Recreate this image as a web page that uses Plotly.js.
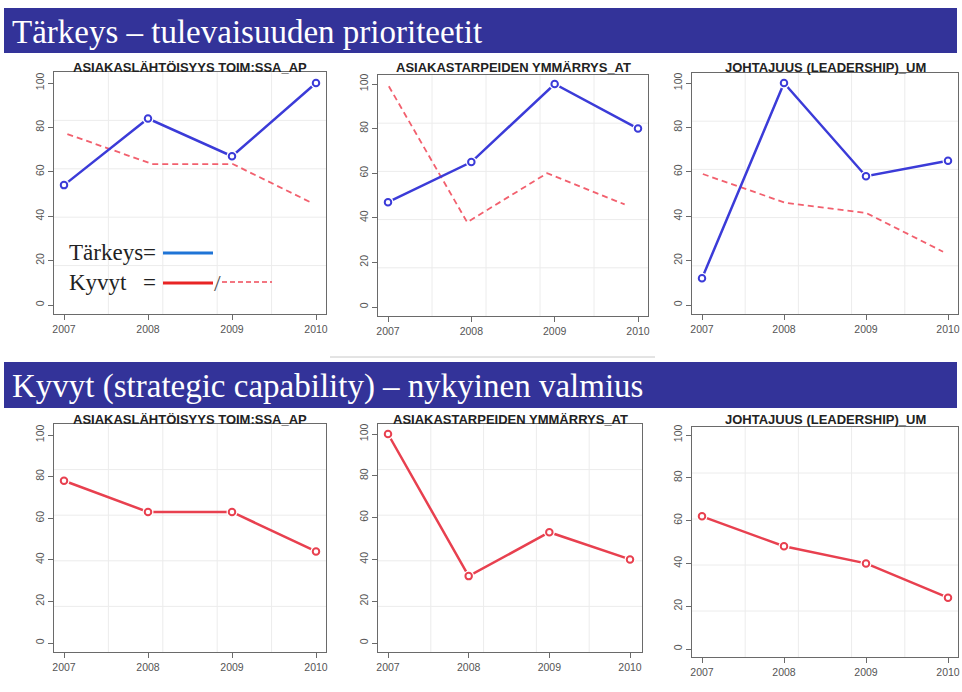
<!DOCTYPE html>
<html><head><meta charset="utf-8">
<script src="https://cdn.plot.ly/plotly-3.0.1.min.js"></script>
<style>html,body{margin:0;padding:0;background:#fff}#chart{width:962px;height:692px}</style>
</head><body><div id="chart"></div>
<script>
// ---------------- data ----------------
const years = [2007, 2008, 2009, 2010];
const yTicks = [0, 20, 40, 60, 80, 100];
const panelTitles = ["ASIAKASLÄHTÖISYYS TOIM:SSA_AP", "ASIAKASTARPEIDEN YMMÄRRYS_AT", "JOHTAJUUS (LEADERSHIP)_UM"];
const bannerTitles = ["Tärkeys – tulevaisuuden prioriteetit", "Kyvyt (strategic capability) – nykyinen valmius"];

// Tärkeys (importance) – top row, blue
const tarkeysAP = [54, 84, 67, 100];
const tarkeysAT = [47, 65, 100, 80];
const tarkeysUM = [12, 100, 58, 65];

// Kyvyt overlay (dashed red, pasted on top row)
const overlayXAP = [2007.04, 2008.05, 2009.01, 2009.95];
const overlayAP = [77, 63.5, 63.5, 46];
const overlayXAT = [2007.01, 2007.95, 2008.91, 2009.84];
const overlayAT = [99, 38, 60, 46];
const overlayXUM = [2007.01, 2008.02, 2009.0, 2009.94];
const overlayUM = [59, 46, 41.5, 24];

// Kyvyt (capability) – bottom row, red
const kyvytAP = [78, 63, 63, 44];
const kyvytAT = [100, 32, 53, 40];
const kyvytUM = [62, 48, 40, 24];

const legendLabels = ["Tärkeys=", "Kyvyt", "=", "/"];

// ---------------- geometry (pixels) ----------------
const W = 962, H = 692;
const fx = p => p / W;
const fy = p => 1 - p / H;
// box: [left, right, top, bottom]; xt: pixel of 2007 & 2010; yt: pixel of 0 & 100
const geom = [
  {box: [54, 326, 72, 314], xt: [64, 316], yt: [305, 83], ty: 67},
  {box: [378, 648, 75, 316], xt: [388, 638], yt: [307, 84], ty: 67},
  {box: [692, 958, 73, 314], xt: [702, 948], yt: [305, 83], ty: 67},
  {box: [54, 326, 424, 652], xt: [64, 316], yt: [643, 435], ty: 419},
  {box: [378, 642, 424, 652], xt: [388, 630], yt: [643, 434], ty: 419},
  {box: [692, 958, 427, 657], xt: [702, 948], yt: [649, 435], ty: 419}
];

const BLUE = '#3b3bd8', RED_DASH = '#f2606e', RED = '#e8404f';

const traces = [];
const layout = {
  width: W, height: H, margin: {l: 0, r: 0, t: 0, b: 0},
  paper_bgcolor: '#ffffff', plot_bgcolor: 'rgba(0,0,0,0)',
  showlegend: false, shapes: [], annotations: [],
  font: {family: 'Arial, Liberation Sans, sans-serif'}
};

function addPanel(i, lines) {
  const g = geom[i];
  const n = i + 1;
  const xa = n === 1 ? 'x' : 'x' + n, ya = n === 1 ? 'y' : 'y' + n;
  const [L, R, T, B] = g.box;
  const ppx = (g.xt[1] - g.xt[0]) / (years[3] - years[0]);
  const xr = [years[0] - (g.xt[0] - L) / ppx, years[3] + (R - g.xt[1]) / ppx];
  const ppy = (g.yt[0] - g.yt[1]) / 100;
  const yr = [0 - (B - g.yt[0]) / ppy, 100 + (g.yt[1] - T) / ppy];
  const axCommon = {
    showline: true, mirror: true, linecolor: '#6a6a6a', linewidth: 1,
    ticks: 'outside', ticklen: 5, tickcolor: '#6a6a6a', tickwidth: 1,
    showgrid: false, zeroline: false, fixedrange: true, ticklabeloverflow: 'allow',
    tickfont: {size: 10.5, color: '#555', family: 'Arial, Liberation Sans, sans-serif'}
  };
  layout['xaxis' + (n === 1 ? '' : n)] = Object.assign({}, axCommon, {
    domain: [fx(L), fx(R)], range: xr, anchor: ya,
    tickmode: 'array', tickvals: years, ticktext: years.map(String)
  });
  layout['yaxis' + (n === 1 ? '' : n)] = Object.assign({}, axCommon, {
    domain: [fy(B), fy(T)], range: yr, anchor: xa,
    tickmode: 'array', tickvals: yTicks, ticktext: yTicks.map(String), tickangle: -90
  });
  // grid: 5 equal divisions of the box
  [0.2, 0.4, 0.6, 0.8].forEach(f => {
    layout.shapes.push({type: 'line', layer: 'below', xref: xa + ' domain', yref: ya + ' domain',
      x0: f, x1: f, y0: 0, y1: 1, line: {color: '#ececec', width: 1}});
    layout.shapes.push({type: 'line', layer: 'below', xref: xa + ' domain', yref: ya + ' domain',
      x0: 0, x1: 1, y0: f, y1: f, line: {color: '#ececec', width: 1}});
  });
  // title
  layout.annotations.push({xref: 'paper', yref: 'paper', x: fx((L + R) / 2), y: fy(g.ty),
    text: '<b>' + panelTitles[i % 3] + '</b>', showarrow: false, xanchor: 'center', yanchor: 'middle',
    font: {size: 13, color: '#222', family: 'Arial, Liberation Sans, sans-serif'}});
  lines.forEach(s => {
    const base = {x: s.x, y: s.y, xaxis: xa, yaxis: ya, hoverinfo: 'skip'};
    traces.push(Object.assign({}, base, {mode: 'lines', line: {color: s.color, width: s.width, dash: s.dash || 'solid'}}));
    if (s.markers) {
      traces.push(Object.assign({}, base, {mode: 'markers', marker: {symbol: 'circle', size: 11, color: '#ffffff', line: {width: 0}}}));
      traces.push(Object.assign({}, base, {mode: 'markers', marker: {symbol: 'circle-open', size: 6.5, color: s.color, line: {width: 2, color: s.color}}}));
    }
  });
}

addPanel(0, [
  {x: overlayXAP, y: overlayAP, color: RED_DASH, width: 1.8, dash: '6px,4px'},
  {x: years, y: tarkeysAP, color: BLUE, width: 2.5, markers: true}
]);
addPanel(1, [
  {x: overlayXAT, y: overlayAT, color: RED_DASH, width: 1.8, dash: '6px,4px'},
  {x: years, y: tarkeysAT, color: BLUE, width: 2.5, markers: true}
]);
addPanel(2, [
  {x: overlayXUM, y: overlayUM, color: RED_DASH, width: 1.8, dash: '6px,4px'},
  {x: years, y: tarkeysUM, color: BLUE, width: 2.5, markers: true}
]);
addPanel(3, [{x: years, y: kyvytAP, color: RED, width: 2.5, markers: true}]);
addPanel(4, [{x: years, y: kyvytAT, color: RED, width: 2.5, markers: true}]);
addPanel(5, [{x: years, y: kyvytUM, color: RED, width: 2.5, markers: true}]);

// banners
const banners = [{y0: 8, y1: 53}, {y0: 362, y1: 408}];
banners.forEach((b, i) => {
  layout.shapes.push({type: 'rect', xref: 'paper', yref: 'paper', layer: 'above',
    x0: fx(4), x1: fx(957), y0: fy(b.y1), y1: fy(b.y0), fillcolor: '#333399', line: {width: 0}});
  layout.annotations.push({xref: 'paper', yref: 'paper', x: fx(10), y: fy((b.y0 + b.y1) / 2 + 1),
    text: bannerTitles[i], showarrow: false, xanchor: 'left', yanchor: 'middle',
    font: {size: 33, color: '#ffffff', family: 'Liberation Serif, DejaVu Serif, serif'}});
});
// thin border line above second banner
layout.shapes.push({type: 'line', xref: 'paper', yref: 'paper', x0: fx(330), x1: fx(655), y0: fy(357), y1: fy(357),
  line: {color: '#c8c8c8', width: 1}});

// hand-drawn legend inside panel 1
const legFont = {size: 23, color: '#222', family: 'Liberation Serif, DejaVu Serif, serif'};
layout.annotations.push({xref: 'paper', yref: 'paper', x: fx(67), y: fy(252), text: legendLabels[0],
  showarrow: false, xanchor: 'left', yanchor: 'middle', font: legFont});
layout.annotations.push({xref: 'paper', yref: 'paper', x: fx(67), y: fy(282), text: legendLabels[1],
  showarrow: false, xanchor: 'left', yanchor: 'middle', font: legFont});
layout.annotations.push({xref: 'paper', yref: 'paper', x: fx(149), y: fy(282), text: legendLabels[2],
  showarrow: false, xanchor: 'center', yanchor: 'middle', font: legFont});
layout.annotations.push({xref: 'paper', yref: 'paper', x: fx(217), y: fy(283), text: legendLabels[3],
  showarrow: false, xanchor: 'center', yanchor: 'middle', font: {size: 24, color: '#555', family: 'Liberation Serif, serif'}});
layout.shapes.push({type: 'line', xref: 'paper', yref: 'paper', x0: fx(163), x1: fx(213), y0: fy(253), y1: fy(253),
  line: {color: '#1f74d6', width: 3}});
layout.shapes.push({type: 'line', xref: 'paper', yref: 'paper', x0: fx(163), x1: fx(213), y0: fy(283), y1: fy(283),
  line: {color: '#e82424', width: 3}});
layout.shapes.push({type: 'line', xref: 'paper', yref: 'paper', x0: fx(222), x1: fx(272), y0: fy(282), y1: fy(282),
  line: {color: '#f04a58', width: 1.5, dash: '5px,3px'}});

Plotly.newPlot('chart', traces, layout, {displayModeBar: false, staticPlot: true});
</script>
</body></html>
